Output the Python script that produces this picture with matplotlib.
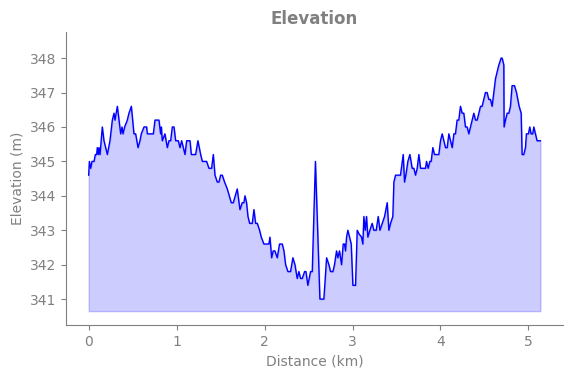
import matplotlib
matplotlib.use("Agg")
import matplotlib.pyplot as plt

distance_km = [
    0.000, 0.008, 0.023, 0.038, 0.061, 0.076, 0.091, 0.098, 0.110, 0.117, 0.129, 0.155, 0.174, 0.193,
    0.212, 0.242, 0.269, 0.288, 0.299, 0.326, 0.345, 0.364, 0.379, 0.390, 0.409, 0.439, 0.458, 0.485,
    0.515, 0.534, 0.561, 0.583, 0.598, 0.629, 0.659, 0.667, 0.735, 0.754, 0.799, 0.818, 0.826, 0.837,
    0.867, 0.894, 0.913, 0.932, 0.951, 0.970, 0.989, 1.019, 1.038, 1.057, 1.095, 1.114, 1.152, 1.167,
    1.216, 1.242, 1.273, 1.292, 1.341, 1.367, 1.398, 1.417, 1.436, 1.462, 1.481, 1.500, 1.519, 1.545,
    1.576, 1.621, 1.644, 1.689, 1.720,
    1.746, 1.765, 1.777, 1.795, 1.811, 1.830, 1.860, 1.879, 1.898, 1.917, 1.943, 1.962, 1.992, 2.049,
    2.061, 2.080, 2.098, 2.117, 2.144, 2.170, 2.201, 2.220, 2.239, 2.265, 2.295, 2.322, 2.345, 2.371,
    2.390, 2.409, 2.428, 2.455, 2.470, 2.492, 2.523, 2.542, 2.578, 2.629, 2.674, 2.705, 2.731, 2.750,
    2.777, 2.795, 2.818, 2.833, 2.852, 2.875, 2.894, 2.909, 2.920, 2.932, 2.947, 2.966, 2.985, 3.004,
    3.034, 3.053, 3.072, 3.102, 3.117, 3.129, 3.144, 3.159, 3.174, 3.197, 3.223, 3.242, 3.269, 3.292,
    3.311, 3.337, 3.364, 3.394, 3.413, 3.432, 3.458, 3.470, 3.489, 3.545, 3.576, 3.591, 3.606, 3.629,
    3.652, 3.678, 3.697, 3.716, 3.735, 3.754, 3.773, 3.830, 3.841, 3.860, 3.879, 3.894, 3.913, 3.932,
    3.981, 4.000, 4.019, 4.038, 4.057, 4.076, 4.095, 4.114, 4.133, 4.152, 4.170, 4.189, 4.208, 4.227,
    4.246, 4.265, 4.284, 4.303, 4.322, 4.341, 4.360, 4.379, 4.398, 4.417, 4.436, 4.455, 4.473, 4.492,
    4.511, 4.530, 4.549, 4.568, 4.587, 4.606, 4.625, 4.644, 4.663, 4.689, 4.701, 4.720, 4.723, 4.739,
    4.758, 4.777, 4.795, 4.814, 4.841, 4.864, 4.879, 4.894, 4.917, 4.928, 4.947, 4.966, 4.977, 5.000,
    5.015, 5.030, 5.049, 5.061, 5.080, 5.098, 5.136,
]

elevation_m = [
    344.6, 345.0, 344.8, 345.0, 345.0, 345.2, 345.2, 345.4, 345.2, 345.4, 345.2, 346.0, 345.6, 345.4,
    345.2, 345.6, 346.2, 346.4, 346.2, 346.6, 346.2, 345.8, 346.0, 345.8, 346.0, 346.2, 346.4, 346.6,
    345.8, 345.8, 345.4, 345.6, 345.8, 346.0, 346.0, 345.8, 345.8, 346.2, 346.2, 345.8, 346.0, 345.6,
    345.8, 345.4, 345.6, 345.6, 346.0, 346.0, 345.6, 345.6, 345.4, 345.6, 345.2, 345.6, 345.6, 345.2,
    345.2, 345.6, 345.2, 345.0, 345.0, 344.8, 344.8, 345.2, 344.6, 344.4, 344.4, 344.6, 344.6, 344.4,
    344.2, 343.8, 343.8, 344.2, 343.6,
    343.8, 343.8, 344.0, 343.8, 343.4, 343.2, 343.2, 343.6, 343.2, 343.2, 343.0, 342.8, 342.6, 342.6,
    342.8, 342.2, 342.4, 342.4, 342.2, 342.6, 342.6, 342.4, 342.0, 341.8, 341.8, 342.2, 342.0, 341.6,
    341.8, 341.6, 341.6, 341.8, 341.8, 341.4, 341.8, 341.8, 345.0, 341.0, 341.0, 342.2, 342.0, 341.8,
    341.8, 342.0, 342.4, 342.2, 342.4, 342.0, 342.6, 342.6, 342.4, 342.8, 343.0, 342.8, 342.6, 341.4,
    341.4, 343.0, 342.9, 342.8, 342.6, 343.4, 343.0, 343.4, 342.8, 343.0, 343.2, 343.0, 343.0, 343.4,
    343.0, 343.2, 343.4, 343.8, 343.0, 343.2, 343.4, 344.4, 344.6, 344.6, 345.2, 344.4, 344.6, 345.0,
    345.2, 344.8, 344.8, 344.6, 344.8, 345.2, 344.8, 344.8, 345.0, 344.8, 345.0, 345.0, 345.4, 345.2,
    345.2, 345.6, 345.8, 345.6, 345.4, 345.4, 345.8, 345.6, 345.4, 345.8, 345.8, 346.2, 346.2, 346.6,
    346.4, 346.4, 346.0, 346.0, 345.8, 346.0, 346.2, 346.4, 346.2, 346.2, 346.4, 346.6, 346.6, 346.8,
    347.0, 347.0, 346.8, 346.8, 346.6, 347.0, 347.4, 347.6, 347.8, 348.0, 348.0, 347.8, 346.0, 346.2,
    346.4, 346.4, 346.6, 347.2, 347.2, 347.0, 346.8, 346.6, 346.4, 345.2, 345.2, 345.4, 345.8, 345.8,
    346.0, 345.8, 345.8, 346.0, 345.8, 345.6, 345.6,
]

fill_base = 340.65
title = "Elevation"
xlabel = "Distance (km)"
ylabel = "Elevation (m)"

gray = "#808080"

fig = plt.figure(figsize=(5.71, 3.78), dpi=100)
ax = fig.add_axes([0.116, 0.140, 0.87, 0.775])

ax.fill_between(distance_km, elevation_m, fill_base, color="blue", alpha=0.2)
ax.plot(distance_km, elevation_m, color="blue", linewidth=1.0)

ax.set_xlim(-0.255, 5.393)
ax.set_ylim(340.245, 348.755)
ax.set_yticks([341, 342, 343, 344, 345, 346, 347, 348])
ax.set_xticks([0, 1, 2, 3, 4, 5])

ax.set_title(title, color=gray, fontweight="bold", fontsize=12)
ax.set_xlabel(xlabel, color=gray, fontsize=10)
ax.set_ylabel(ylabel, color=gray, fontsize=10)

for side in ("top", "right"):
    ax.spines[side].set_visible(False)
for side in ("left", "bottom"):
    ax.spines[side].set_color(gray)
ax.tick_params(colors=gray, labelcolor=gray, labelsize=10)

fig.savefig("out.png", dpi=100)
